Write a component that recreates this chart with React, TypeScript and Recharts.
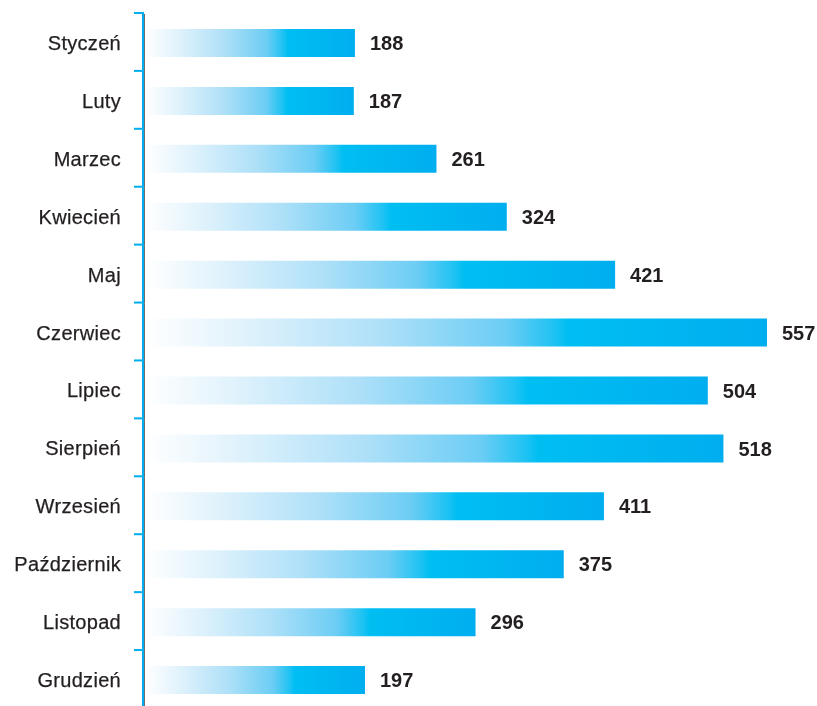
import { BarChart, Bar, XAxis, YAxis, LabelList } from 'recharts';

const months = [
  'Styczeń',
  'Luty',
  'Marzec',
  'Kwiecień',
  'Maj',
  'Czerwiec',
  'Lipiec',
  'Sierpień',
  'Wrzesień',
  'Październik',
  'Listopad',
  'Grudzień',
];
const values = [188, 187, 261, 324, 421, 557, 504, 518, 411, 375, 296, 197];

const data = months.map((m, i) => ({ month: m, value: values[i] }));

const BLUE = '#00aeef';
const TEXT = '#231f20';
const HALF_BAND = 29;

function MonthTick(props: any) {
  const { x, y, payload } = props;
  return (
    <g>
      <line x1={x - 0.5} x2={x - 0.5} y1={y - HALF_BAND} y2={y + HALF_BAND} stroke="#6d6e71" strokeWidth={1} />
      <line x1={x - 2} x2={x - 2} y1={y - HALF_BAND - 2} y2={y + HALF_BAND} stroke={BLUE} strokeWidth={2} />
      <line x1={x - 11} x2={x - 2} y1={y - HALF_BAND - 1} y2={y - HALF_BAND - 1} stroke={BLUE} strokeWidth={2} />
      <text
        x={x - 24}
        y={y}
        textAnchor="end"
        dominantBaseline="central"
        fill={TEXT}
        stroke={TEXT}
        strokeWidth={0.25}
        fontSize={20}
        letterSpacing={0.3}
        fontFamily="'Liberation Sans', Arial, sans-serif"
      >
        {payload.value}
      </text>
    </g>
  );
}

export default function App() {
  // fixed so the chart's overhang below the window doesn't add a scrollbar
  return (
    <div style={{ position: 'fixed', top: 8, left: 8 }}>
      <BarChart
        width={809}
        height={706}
        data={data}
        layout="vertical"
        margin={{ top: 6, right: 2, bottom: 5, left: 0 }}
        barSize={28}
        style={{ overflow: 'visible' }}
      >
        <defs>
          <linearGradient id="barFill" x1="0" y1="0" x2="1" y2="0">
            <stop offset="0%" stopColor="#ffffff" />
            <stop offset="15%" stopColor="#e2f3fc" />
            <stop offset="38%" stopColor="#aee0f8" />
            <stop offset="58%" stopColor="#6ccdf4" />
            <stop offset="66%" stopColor="#1cc2f3" />
            <stop offset="68%" stopColor="#00bef2" />
            <stop offset="100%" stopColor="#00aeef" />
          </linearGradient>
        </defs>
        <XAxis type="number" domain={[0, 600]} hide />
        <YAxis
          type="category"
          dataKey="month"
          width={137}
          axisLine={false}
          tickLine={false}
          tickSize={0}
          tickMargin={0}
          interval={0}
          tick={<MonthTick />}
        />
        <Bar dataKey="value" fill="url(#barFill)" isAnimationActive={false}>
          <LabelList
            dataKey="value"
            position="right"
            offset={15}
            fill={TEXT}
            fontSize={20}
            fontWeight="bold"
            fontFamily="'Liberation Sans', Arial, sans-serif"
          />
        </Bar>
      </BarChart>
    </div>
  );
}
